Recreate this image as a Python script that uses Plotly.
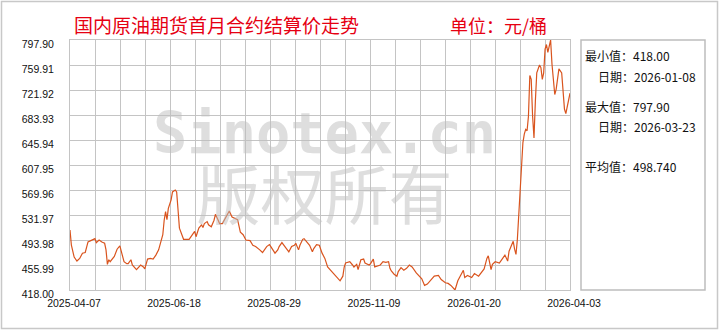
import pandas as pd
import plotly.graph_objects as go

# ---------------- data ----------------
start_date = "2025-04-07"
end_date = "2026-04-03"
day_offsets = [0, 1, 3, 5, 7, 9, 11, 13, 15, 18, 19, 21, 23, 25, 26, 27, 28, 29, 32, 34, 36, 38, 39, 41, 42, 44,
               45, 48, 50, 51, 53, 54, 56, 58, 60, 62, 64, 65, 67, 68, 69, 70, 71, 73, 74, 76, 77, 78, 79, 82, 84,
               86, 89, 90, 91, 93, 95, 96, 97, 99, 100, 102, 104, 105, 107, 108, 110, 112, 114, 115, 117, 119, 121,
               123, 125, 127, 130, 132, 134, 137, 139, 142, 144, 145, 148, 150, 151, 153, 155, 158, 160, 162, 163,
               165, 166, 168, 169, 171, 173, 175, 176, 178, 180, 182, 184, 186, 189, 191, 193, 195, 197, 198, 199,
               202, 204, 205, 207, 208, 210, 212, 213, 216, 217, 219, 220, 222, 224, 226, 228, 230, 231, 232, 234,
               236, 237, 239, 241, 243, 245, 247, 250, 254, 256, 258, 261, 263, 266, 268, 271, 273, 275, 278, 280,
               282, 284, 285, 287, 290, 292, 295, 297, 299, 301, 302, 304, 305, 307, 310, 312, 314, 316, 317, 319,
               320, 321, 322, 323, 324, 325, 326, 327, 328, 329, 330, 331, 332, 333, 334, 335, 336, 337, 339, 340,
               341, 342, 343, 344, 345, 346, 347, 348, 349, 350, 351, 352, 353, 355, 356, 357, 358, 359, 361]
settle_prices = [509, 486, 468, 462, 466, 474, 475, 491, 493, 496, 490, 494, 491, 489, 479, 457, 464, 461, 469, 480,
                 485, 471, 461, 458, 458, 464, 456, 449, 453, 456, 453, 450, 465, 466, 465, 471, 479, 486, 502, 524,
                 537, 525, 542, 555, 567, 570, 567, 540, 512, 495, 495, 495, 504, 507, 499, 512, 517, 513, 519, 522,
                 517, 514, 524, 533, 524, 519, 519, 527, 535, 538, 529, 527, 525, 506, 502, 494, 493, 486, 484, 479,
                 475, 484, 487, 484, 474, 479, 484, 490, 485, 476, 484, 486, 489, 479, 486, 495, 496, 491, 486, 476,
                 481, 487, 486, 474, 466, 453, 446, 442, 437, 432, 439, 453, 459, 461, 456, 453, 457, 449, 464, 465,
                 459, 456, 458, 465, 453, 454, 456, 461, 460, 461, 451, 447, 442, 439, 446, 452, 448, 451, 456, 453,
                 444, 435, 425, 427, 434, 439, 440, 434, 429, 428, 425, 418, 432, 439, 448, 437, 440, 437, 443, 439,
                 444, 450, 466, 470, 449, 457, 461, 459, 465, 471, 462, 477, 487, 492, 480, 472, 495, 530, 571, 601,
                 642, 655, 662, 660, 682, 744, 738, 682, 649, 705, 748, 760, 756, 738, 748, 784, 791, 779, 791, 797.9,
                 761, 736, 715, 723, 738, 754, 748, 723, 693, 686, 698, 717]

y_min, y_max = 418.00, 797.90
y_tick_values = [418.00, 455.99, 493.98, 531.97, 569.96, 607.95, 645.94, 683.93, 721.92, 759.91, 797.90]
x_tick_labels = ["2025-04-07", "2025-06-18", "2025-08-29", "2025-11-09", "2026-01-20", "2026-04-03"]

title_text = "国内原油期货首月合约结算价走势"
unit_text = "单位：元/桶"
stat_lines = ["最小值：418.00", "日期：2026-01-08", "最大值：797.90", "日期：2026-03-23", "平均值：498.740"]
watermark_en = "Sinotex.cn"
watermark_cn = "版权所有"

# ---------------- layout helpers ----------------
W, H = 720, 330
L, R, T, B = 70, 570, 40, 290


def px(xp):
    return (xp - L) / (R - L)


def py(yp):
    return (B - yp) / (B - T)


dates = pd.to_datetime(start_date) + pd.to_timedelta(day_offsets, unit="D")
t0, t1 = pd.Timestamp(start_date), pd.Timestamp(end_date)
grid_vals = [t0 + (t1 - t0) * i / 20 for i in range(21)]
grid_text = [""] * 21
for k, lab in enumerate(x_tick_labels):
    grid_text[k * 4] = lab

line_color = "#d9541e"
grid_color = "#c4c4c4"

fig = go.Figure()
fig.add_trace(go.Scatter(x=dates, y=settle_prices, mode="lines",
                         line=dict(color=line_color, width=1.2), hoverinfo="skip", showlegend=False))

fig.update_layout(
    width=W, height=H,
    margin=dict(l=L, r=W - R, t=T, b=H - B, pad=0),
    paper_bgcolor="white", plot_bgcolor="white",
    showlegend=False,
    font=dict(family="Liberation Sans, Noto Sans CJK SC", size=11, color="#111"),
    xaxis=dict(type="date", range=[t0, t1], tickmode="array", tickvals=grid_vals, ticktext=grid_text,
               showgrid=True, gridcolor=grid_color, gridwidth=1, ticks="", showline=True,
               linecolor=grid_color, mirror=True, zeroline=False, ticklabelshift=4,
               ticklabelstandoff=3, tickfont=dict(size=10.5, family="Liberation Sans")),
    yaxis=dict(range=[y_min, y_max], tickmode="array", tickvals=y_tick_values,
               ticktext=[f"{v:.2f}" for v in y_tick_values],
               showgrid=True, gridcolor=grid_color, gridwidth=1, ticks="", showline=True,
               linecolor=grid_color, mirror=True, zeroline=False, ticklabelshift=4,
               ticklabelstandoff=13, tickfont=dict(size=10.5, family="Liberation Sans")),
)

shapes = [
    # outer frame
    dict(type="rect", xref="paper", yref="paper", x0=px(1.5), x1=px(717.5), y0=py(1.5), y1=py(328.5),
         line=dict(color="#c8c8c8", width=1.5), fillcolor="rgba(0,0,0,0)", layer="below"),
    # stats box
    dict(type="rect", xref="paper", yref="paper", x0=px(581), x1=px(705), y0=py(40), y1=py(290),
         line=dict(color="#bdbdbd", width=1.5), fillcolor="rgba(0,0,0,0)"),
]
fig.update_layout(shapes=shapes)

ann = []
ann.append(dict(text=title_text, x=px(72), y=py(25), xref="paper", yref="paper", xanchor="left",
                yanchor="middle", showarrow=False,
                font=dict(family="Noto Sans CJK SC", size=19, color="#e60012")))
ann.append(dict(text=unit_text, x=px(448), y=py(25), xref="paper", yref="paper", xanchor="left",
                yanchor="middle", showarrow=False,
                font=dict(family="Noto Sans CJK SC", size=18, color="#e60012")))
stat_pos = [(583, 56), (596, 76), (583, 106), (596, 126), (583, 166)]
for s, (sx, sy) in zip(stat_lines, stat_pos):
    ann.append(dict(text=s, x=px(sx), y=py(sy), xref="paper", yref="paper", xanchor="left",
                    yanchor="middle", showarrow=False,
                    font=dict(family="Noto Sans CJK SC", size=12, color="#111")))

# watermark: one two-line text block
wm_color = "rgba(190,190,190,0.5)"
wm_text = (f"<span style='font-family:DejaVu Sans Mono;font-weight:bold;font-size:57px'>{watermark_en}</span>"
           f"<br><span style='font-size:64px'>{watermark_cn}</span>")
ann.append(dict(text=wm_text, x=px(324), y=py(168), xref="paper", yref="paper", xanchor="center",
                yanchor="middle", align="center", showarrow=False,
                font=dict(family="Noto Sans CJK SC", size=51, color=wm_color)))
fig.update_layout(annotations=ann)

fig.write_html("out.html")
